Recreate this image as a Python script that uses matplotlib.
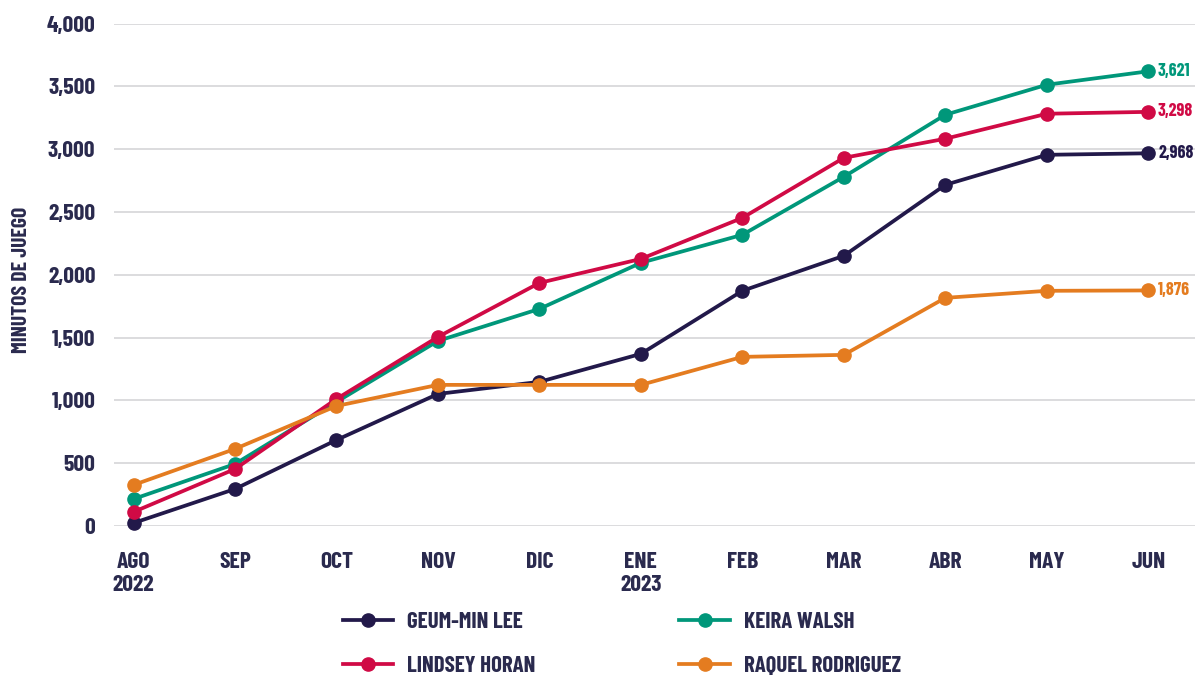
import matplotlib.pyplot as plt

months = ['AGO\n2022', 'SEP', 'OCT', 'NOV', 'DIC', 'ENE\n2023', 'FEB', 'MAR', 'ABR', 'MAY', 'JUN']

geum_min_lee = [24, 295, 685, 1052, 1148, 1371, 1873, 2152, 2717, 2956, 2968]
keira_walsh = [215, 494, 988, 1474, 1729, 2096, 2319, 2781, 3275, 3514, 3621]
lindsey_horan = [112, 454, 1012, 1506, 1936, 2127, 2454, 2932, 3084, 3283, 3298]
raquel_rodriguez = [327, 614, 956, 1124, 1124, 1124, 1347, 1363, 1817, 1873, 1876]

series = [
    ('GEUM-MIN LEE', geum_min_lee, '#22194a'),
    ('KEIRA WALSH', keira_walsh, '#00977a'),
    ('LINDSEY HORAN', lindsey_horan, '#d00a45'),
    ('RAQUEL RODRIGUEZ', raquel_rodriguez, '#e47c20'),
]

plt.rcParams['font.family'] = ['Barlow Condensed', 'DejaVu Sans']
plt.rcParams['font.weight'] = 'bold'
text_color = '#2a2a4e'

fig = plt.figure(figsize=(11.95, 6.77), dpi=100)
ax = fig.add_axes([0.095, 0.223, 0.905, 0.742])

x = list(range(len(months)))
for name, vals, color in series:
    ax.plot(x, vals, '-o', color=color, lw=2.7, ms=9.5, label=name, clip_on=False, zorder=3)
    ax.annotate(f'{vals[-1]:,}', (x[-1], vals[-1]), xytext=(7, 0), textcoords='offset points',
                va='center', ha='left', color=color, fontsize=13, fontweight='bold')

ax.set_xlim(-0.197, 10.46)
ax.set_ylim(0, 4000)
ax.set_yticks(range(0, 4001, 500))
ax.set_yticklabels([f'{v:,}' for v in range(0, 4001, 500)])
ax.set_xticks(x)
ax.set_xticklabels(months, linespacing=1.15)
ax.yaxis.grid(True, color='#d5d5d8', lw=1.2)
ax.set_axisbelow(True)
for s in ax.spines.values():
    s.set_visible(False)
ax.tick_params(length=0, labelsize=17, labelcolor=text_color)
ax.tick_params(axis='x', pad=19)
ax.tick_params(axis='y', pad=13)
ax.set_ylabel('MINUTOS DE JUEGO', fontsize=15.5, fontweight='bold', color=text_color)
ax.yaxis.set_label_coords(-0.076, 0.49)

# legend: two columns under the axes, order as in the source
handles, labels = ax.get_legend_handles_labels()
order = [0, 2, 1, 3]
leg = fig.legend([handles[i] for i in order], [labels[i] for i in order], ncol=2,
                 loc='upper left', bbox_to_anchor=(0.279, 0.110), frameon=False,
                 borderaxespad=0, fontsize=16.5, handlelength=2.2, columnspacing=6.3,
                 labelspacing=1.05, handletextpad=0.6)
for t in leg.get_texts():
    t.set_fontweight('bold')
    t.set_color(text_color)

fig.savefig('out.png', dpi=100)
